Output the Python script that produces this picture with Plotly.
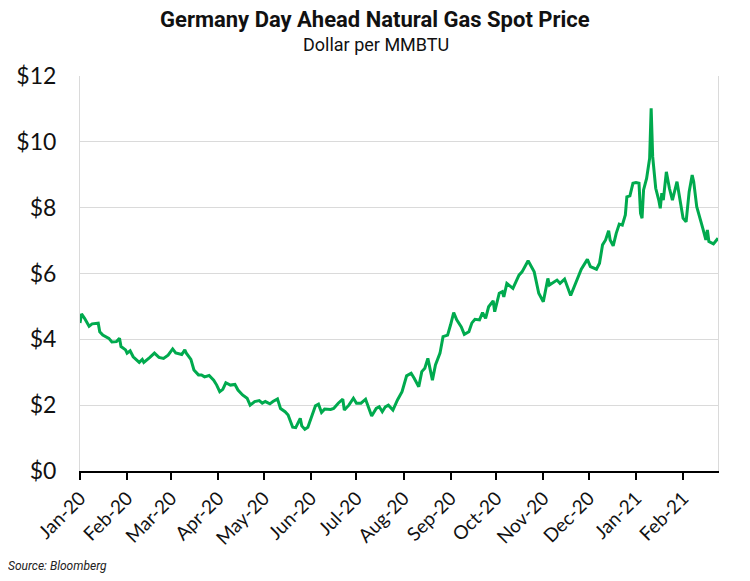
import plotly.graph_objects as go

dates = [
    "2020-01-01", "2020-01-02", "2020-01-04", "2020-01-07", "2020-01-09", "2020-01-13", "2020-01-14",
    "2020-01-16", "2020-01-20", "2020-01-22", "2020-01-25", "2020-01-27", "2020-01-28", "2020-01-31",
    "2020-02-01", "2020-02-03", "2020-02-05", "2020-02-09", "2020-02-11", "2020-02-12", "2020-02-16",
    "2020-02-19", "2020-02-22", "2020-02-25", "2020-02-28", "2020-03-02", "2020-03-04", "2020-03-08",
    "2020-03-10", "2020-03-11", "2020-03-14", "2020-03-16", "2020-03-19", "2020-03-21", "2020-03-23",
    "2020-03-26", "2020-03-29", "2020-03-31", "2020-04-02", "2020-04-04", "2020-04-06", "2020-04-09",
    "2020-04-12", "2020-04-14", "2020-04-17", "2020-04-20", "2020-04-22", "2020-04-25", "2020-04-28",
    "2020-04-30", "2020-05-02", "2020-05-05", "2020-05-07", "2020-05-10", "2020-05-12", "2020-05-15",
    "2020-05-17", "2020-05-20", "2020-05-22", "2020-05-25", "2020-05-26", "2020-05-28", "2020-05-30",
    "2020-06-02", "2020-06-04", "2020-06-06", "2020-06-08", "2020-06-10", "2020-06-14", "2020-06-16",
    "2020-06-19", "2020-06-22", "2020-06-23", "2020-06-26", "2020-06-29", "2020-07-01", "2020-07-04",
    "2020-07-07", "2020-07-09", "2020-07-11", "2020-07-14", "2020-07-16", "2020-07-18", "2020-07-20",
    "2020-07-22", "2020-07-25", "2020-07-28", "2020-07-31", "2020-08-03", "2020-08-06", "2020-08-08",
    "2020-08-11", "2020-08-13", "2020-08-15", "2020-08-17", "2020-08-20", "2020-08-22", "2020-08-25",
    "2020-08-27", "2020-08-30", "2020-09-01", "2020-09-03", "2020-09-05", "2020-09-08", "2020-09-10",
    "2020-09-13", "2020-09-15", "2020-09-17", "2020-09-20", "2020-09-22", "2020-09-24", "2020-09-26",
    "2020-09-29", "2020-09-30", "2020-10-03", "2020-10-05", "2020-10-06", "2020-10-08", "2020-10-12",
    "2020-10-16", "2020-10-18", "2020-10-22", "2020-10-26", "2020-10-29", "2020-11-01", "2020-11-04",
    "2020-11-05", "2020-11-08", "2020-11-10", "2020-11-12", "2020-11-15", "2020-11-19", "2020-11-22",
    "2020-11-24", "2020-11-26", "2020-11-30", "2020-12-02", "2020-12-06", "2020-12-08", "2020-12-10",
    "2020-12-12", "2020-12-14", "2020-12-15", "2020-12-17", "2020-12-19", "2020-12-21", "2020-12-23",
    "2020-12-25", "2020-12-26", "2020-12-28", "2020-12-30", "2021-01-01", "2021-01-03", "2021-01-04",
    "2021-01-05", "2021-01-06", "2021-01-08", "2021-01-10", "2021-01-11", "2021-01-12", "2021-01-14",
    "2021-01-16", "2021-01-17", "2021-01-18", "2021-01-19", "2021-01-21", "2021-01-23", "2021-01-25",
    "2021-01-28", "2021-01-30", "2021-02-01", "2021-02-03", "2021-02-05", "2021-02-07", "2021-02-08",
    "2021-02-10", "2021-02-12", "2021-02-14", "2021-02-16", "2021-02-17", "2021-02-18", "2021-02-21",
    "2021-02-24",
]

prices = [
    4.50, 4.77, 4.64, 4.40, 4.47, 4.49, 4.23,
    4.13, 4.03, 3.92, 3.93, 4.03, 3.78, 3.68,
    3.58, 3.65, 3.47, 3.30, 3.39, 3.30, 3.45,
    3.58, 3.45, 3.42, 3.52, 3.71, 3.59, 3.54,
    3.68, 3.58, 3.39, 3.07, 2.92, 2.92, 2.86,
    2.90, 2.76, 2.61, 2.41, 2.48, 2.68, 2.61,
    2.63, 2.46, 2.31, 2.21, 2.00, 2.11, 2.14,
    2.06, 2.11, 2.04, 2.11, 2.19, 1.90, 1.80,
    1.70, 1.33, 1.32, 1.60, 1.37, 1.27, 1.33,
    1.70, 1.98, 2.03, 1.78, 1.88, 1.87, 1.90,
    2.06, 2.18, 1.85, 2.00, 2.21, 2.06, 2.06,
    2.18, 1.92, 1.67, 1.90, 1.95, 1.80, 1.95,
    2.00, 1.85, 2.16, 2.41, 2.89, 2.97, 2.82,
    2.56, 3.02, 3.12, 3.42, 2.76, 3.22, 3.58,
    4.08, 4.13, 4.45, 4.81, 4.59, 4.38, 4.15,
    4.23, 4.50, 4.61, 4.59, 4.81, 4.64, 4.99,
    5.17, 4.84, 5.40, 5.45, 5.29, 5.70, 5.55,
    5.95, 6.05, 6.39, 6.05, 5.40, 5.14, 5.85,
    5.65, 5.75, 5.80, 5.70, 5.83, 5.33, 5.65,
    5.88, 6.13, 6.43, 6.21, 6.13, 6.31, 6.87,
    7.02, 7.30, 7.02, 6.84, 7.22, 7.50, 7.47,
    7.78, 8.33, 8.36, 8.74, 8.76, 8.74, 7.83,
    7.68, 8.54, 8.89, 9.50, 11.02, 9.55, 8.59,
    8.23, 7.98, 8.44, 8.23, 9.09, 8.59, 8.23,
    8.79, 8.23, 7.68, 7.57, 8.48, 8.99, 8.79,
    8.03, 7.73, 7.37, 7.02, 7.32, 6.97, 6.90,
    7.07,
]

title_text = "Germany Day Ahead Natural Gas Spot Price"
subtitle_text = "Dollar per MMBTU"
source_text = "Source: Bloomberg"
y_tick_values = [0, 2, 4, 6, 8, 10, 12]
y_tick_labels = ["$0", "$2", "$4", "$6", "$8", "$10", "$12"]

# The page body adds an 8px offset; margins compensate for it.
OFF = 8
W, H = 750, 581
ML, MR, MT, MB = 80 - OFF, 32 + OFF, 76 - OFF, 110 + OFF
plot_h = H - MT - MB
plot_w = W - ML - MR

def py(pix):
    return (H - MB - (pix - OFF)) / plot_h

def px(pix):
    return ((pix - OFF) - ML) / plot_w

fig = go.Figure()
fig.add_trace(go.Scatter(
    x=dates, y=prices, mode="lines",
    line=dict(color="#00AA4E", width=3),
    hoverinfo="skip", showlegend=False,
))

fig.update_layout(
    width=W, height=H,
    margin=dict(l=ML, r=MR, t=MT, b=MB, autoexpand=False),
    paper_bgcolor="white", plot_bgcolor="white",
    showlegend=False,
    annotations=[
        dict(text="<b>" + title_text + "</b>", x=px(375), xref="paper", xanchor="center",
             y=py(20), yref="paper", yanchor="middle", showarrow=False,
             font=dict(family="Roboto", size=22, color="#111111")),
        dict(text=subtitle_text, x=px(376), xref="paper", xanchor="center",
             y=py(44), yref="paper", yanchor="middle", showarrow=False,
             font=dict(family="Roboto", size=18, color="#111111")),
        dict(text="<i>" + source_text + "</i>", x=px(6), xref="paper", xanchor="left",
             y=py(566), yref="paper", yanchor="middle", showarrow=False,
             font=dict(family="Roboto", size=12, color="#222222")),
    ],
)

fig.update_xaxes(
    type="date", automargin=False,
    range=["2020-01-01", "2021-02-24"],
    tick0="2020-01-01", dtick="M1", tickformat="%b-%y",
    tickangle=-45,
    ticks="outside", ticklen=7, tickwidth=1.5, tickcolor="black",
    showline=True, linecolor="black", linewidth=1.5,
    showgrid=False, zeroline=False,
    tickfont=dict(family="Lato", size=19, color="#111111"),
)
fig.update_yaxes(
    automargin=False,
    range=[0, 12], tickmode="array", tickvals=y_tick_values, ticktext=y_tick_labels,
    showgrid=True, gridcolor="#DADADA", gridwidth=1,
    showline=True, linecolor="#DADADA", linewidth=1, mirror=True,
    zeroline=False, ticks="", ticklabelstandoff=18,
    tickfont=dict(family="Lato", size=23, color="#111111"),
)

fig.write_html("out.html")
